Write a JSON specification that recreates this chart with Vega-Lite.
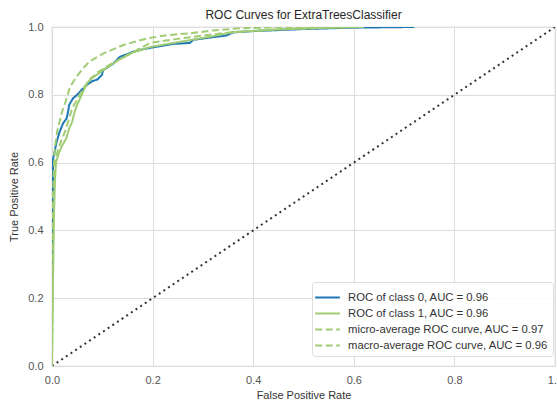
{
  "$schema": "https://vega.github.io/schema/vega-lite/v6.json",
  "width": 503,
  "height": 339,
  "autosize": "none",
  "padding": {"left": 52, "top": 27, "right": 2, "bottom": 35},
  "background": "white",
  "title": {"text": "ROC Curves for ExtraTreesClassifier", "font": "Liberation Sans", "fontSize": 12, "fontWeight": "normal", "color": "#262626", "anchor": "middle", "offset": -1},
  "datasets": {
    "roc": [
      {"s": "ROC of class 0, AUC = 0.96", "i": 0, "fpr": 0, "tpr": 0},
      {"s": "ROC of class 0, AUC = 0.96", "i": 1, "fpr": 0, "tpr": 0.35},
      {"s": "ROC of class 0, AUC = 0.96", "i": 2, "fpr": 0.002, "tpr": 0.55},
      {"s": "ROC of class 0, AUC = 0.96", "i": 3, "fpr": 0.002, "tpr": 0.61},
      {"s": "ROC of class 0, AUC = 0.96", "i": 4, "fpr": 0.005, "tpr": 0.63},
      {"s": "ROC of class 0, AUC = 0.96", "i": 5, "fpr": 0.009, "tpr": 0.66},
      {"s": "ROC of class 0, AUC = 0.96", "i": 6, "fpr": 0.015, "tpr": 0.69},
      {"s": "ROC of class 0, AUC = 0.96", "i": 7, "fpr": 0.022, "tpr": 0.716},
      {"s": "ROC of class 0, AUC = 0.96", "i": 8, "fpr": 0.029, "tpr": 0.73},
      {"s": "ROC of class 0, AUC = 0.96", "i": 9, "fpr": 0.032, "tpr": 0.75},
      {"s": "ROC of class 0, AUC = 0.96", "i": 10, "fpr": 0.034, "tpr": 0.77},
      {"s": "ROC of class 0, AUC = 0.96", "i": 11, "fpr": 0.042, "tpr": 0.79},
      {"s": "ROC of class 0, AUC = 0.96", "i": 12, "fpr": 0.05, "tpr": 0.8},
      {"s": "ROC of class 0, AUC = 0.96", "i": 13, "fpr": 0.059, "tpr": 0.814},
      {"s": "ROC of class 0, AUC = 0.96", "i": 14, "fpr": 0.069, "tpr": 0.829},
      {"s": "ROC of class 0, AUC = 0.96", "i": 15, "fpr": 0.08, "tpr": 0.84},
      {"s": "ROC of class 0, AUC = 0.96", "i": 16, "fpr": 0.09, "tpr": 0.845},
      {"s": "ROC of class 0, AUC = 0.96", "i": 17, "fpr": 0.099, "tpr": 0.858},
      {"s": "ROC of class 0, AUC = 0.96", "i": 18, "fpr": 0.102, "tpr": 0.873},
      {"s": "ROC of class 0, AUC = 0.96", "i": 19, "fpr": 0.12, "tpr": 0.89},
      {"s": "ROC of class 0, AUC = 0.96", "i": 20, "fpr": 0.135, "tpr": 0.912},
      {"s": "ROC of class 0, AUC = 0.96", "i": 21, "fpr": 0.15, "tpr": 0.92},
      {"s": "ROC of class 0, AUC = 0.96", "i": 22, "fpr": 0.161, "tpr": 0.927},
      {"s": "ROC of class 0, AUC = 0.96", "i": 23, "fpr": 0.18, "tpr": 0.934},
      {"s": "ROC of class 0, AUC = 0.96", "i": 24, "fpr": 0.201, "tpr": 0.94},
      {"s": "ROC of class 0, AUC = 0.96", "i": 25, "fpr": 0.241, "tpr": 0.95},
      {"s": "ROC of class 0, AUC = 0.96", "i": 26, "fpr": 0.274, "tpr": 0.953},
      {"s": "ROC of class 0, AUC = 0.96", "i": 27, "fpr": 0.281, "tpr": 0.962},
      {"s": "ROC of class 0, AUC = 0.96", "i": 28, "fpr": 0.32, "tpr": 0.97},
      {"s": "ROC of class 0, AUC = 0.96", "i": 29, "fpr": 0.347, "tpr": 0.975},
      {"s": "ROC of class 0, AUC = 0.96", "i": 30, "fpr": 0.36, "tpr": 0.984},
      {"s": "ROC of class 0, AUC = 0.96", "i": 31, "fpr": 0.4, "tpr": 0.988},
      {"s": "ROC of class 0, AUC = 0.96", "i": 32, "fpr": 0.453, "tpr": 0.991},
      {"s": "ROC of class 0, AUC = 0.96", "i": 33, "fpr": 0.5, "tpr": 0.994},
      {"s": "ROC of class 0, AUC = 0.96", "i": 34, "fpr": 0.55, "tpr": 0.996},
      {"s": "ROC of class 0, AUC = 0.96", "i": 35, "fpr": 0.6, "tpr": 0.998},
      {"s": "ROC of class 0, AUC = 0.96", "i": 36, "fpr": 0.72, "tpr": 1.0},

      {"s": "ROC of class 1, AUC = 0.96", "i": 0, "fpr": 0, "tpr": 0},
      {"s": "ROC of class 1, AUC = 0.96", "i": 1, "fpr": 0.002, "tpr": 0.25},
      {"s": "ROC of class 1, AUC = 0.96", "i": 2, "fpr": 0.004, "tpr": 0.45},
      {"s": "ROC of class 1, AUC = 0.96", "i": 3, "fpr": 0.006, "tpr": 0.55},
      {"s": "ROC of class 1, AUC = 0.96", "i": 4, "fpr": 0.008, "tpr": 0.6},
      {"s": "ROC of class 1, AUC = 0.96", "i": 5, "fpr": 0.014, "tpr": 0.63},
      {"s": "ROC of class 1, AUC = 0.96", "i": 6, "fpr": 0.02, "tpr": 0.65},
      {"s": "ROC of class 1, AUC = 0.96", "i": 7, "fpr": 0.028, "tpr": 0.67},
      {"s": "ROC of class 1, AUC = 0.96", "i": 8, "fpr": 0.034, "tpr": 0.7},
      {"s": "ROC of class 1, AUC = 0.96", "i": 9, "fpr": 0.04, "tpr": 0.72},
      {"s": "ROC of class 1, AUC = 0.96", "i": 10, "fpr": 0.045, "tpr": 0.75},
      {"s": "ROC of class 1, AUC = 0.96", "i": 11, "fpr": 0.05, "tpr": 0.77},
      {"s": "ROC of class 1, AUC = 0.96", "i": 12, "fpr": 0.056, "tpr": 0.79},
      {"s": "ROC of class 1, AUC = 0.96", "i": 13, "fpr": 0.062, "tpr": 0.81},
      {"s": "ROC of class 1, AUC = 0.96", "i": 14, "fpr": 0.07, "tpr": 0.835},
      {"s": "ROC of class 1, AUC = 0.96", "i": 15, "fpr": 0.08, "tpr": 0.85},
      {"s": "ROC of class 1, AUC = 0.96", "i": 16, "fpr": 0.095, "tpr": 0.865},
      {"s": "ROC of class 1, AUC = 0.96", "i": 17, "fpr": 0.109, "tpr": 0.88},
      {"s": "ROC of class 1, AUC = 0.96", "i": 18, "fpr": 0.135, "tpr": 0.905},
      {"s": "ROC of class 1, AUC = 0.96", "i": 19, "fpr": 0.161, "tpr": 0.925},
      {"s": "ROC of class 1, AUC = 0.96", "i": 20, "fpr": 0.195, "tpr": 0.941},
      {"s": "ROC of class 1, AUC = 0.96", "i": 21, "fpr": 0.23, "tpr": 0.95},
      {"s": "ROC of class 1, AUC = 0.96", "i": 22, "fpr": 0.274, "tpr": 0.961},
      {"s": "ROC of class 1, AUC = 0.96", "i": 23, "fpr": 0.32, "tpr": 0.973},
      {"s": "ROC of class 1, AUC = 0.96", "i": 24, "fpr": 0.36, "tpr": 0.985},
      {"s": "ROC of class 1, AUC = 0.96", "i": 25, "fpr": 0.453, "tpr": 0.993},
      {"s": "ROC of class 1, AUC = 0.96", "i": 26, "fpr": 0.55, "tpr": 0.998},
      {"s": "ROC of class 1, AUC = 0.96", "i": 27, "fpr": 0.62, "tpr": 1.0},

      {"s": "micro-average ROC curve, AUC = 0.97", "i": 0, "fpr": 0, "tpr": 0},
      {"s": "micro-average ROC curve, AUC = 0.97", "i": 1, "fpr": 0, "tpr": 0.3},
      {"s": "micro-average ROC curve, AUC = 0.97", "i": 2, "fpr": 0.002, "tpr": 0.5},
      {"s": "micro-average ROC curve, AUC = 0.97", "i": 3, "fpr": 0.004, "tpr": 0.6},
      {"s": "micro-average ROC curve, AUC = 0.97", "i": 4, "fpr": 0.006, "tpr": 0.647},
      {"s": "micro-average ROC curve, AUC = 0.97", "i": 5, "fpr": 0.01, "tpr": 0.69},
      {"s": "micro-average ROC curve, AUC = 0.97", "i": 6, "fpr": 0.016, "tpr": 0.726},
      {"s": "micro-average ROC curve, AUC = 0.97", "i": 7, "fpr": 0.02, "tpr": 0.75},
      {"s": "micro-average ROC curve, AUC = 0.97", "i": 8, "fpr": 0.026, "tpr": 0.775},
      {"s": "micro-average ROC curve, AUC = 0.97", "i": 9, "fpr": 0.036, "tpr": 0.824},
      {"s": "micro-average ROC curve, AUC = 0.97", "i": 10, "fpr": 0.049, "tpr": 0.854},
      {"s": "micro-average ROC curve, AUC = 0.97", "i": 11, "fpr": 0.06, "tpr": 0.875},
      {"s": "micro-average ROC curve, AUC = 0.97", "i": 12, "fpr": 0.075, "tpr": 0.899},
      {"s": "micro-average ROC curve, AUC = 0.97", "i": 13, "fpr": 0.102, "tpr": 0.922},
      {"s": "micro-average ROC curve, AUC = 0.97", "i": 14, "fpr": 0.142, "tpr": 0.947},
      {"s": "micro-average ROC curve, AUC = 0.97", "i": 15, "fpr": 0.188, "tpr": 0.966},
      {"s": "micro-average ROC curve, AUC = 0.97", "i": 16, "fpr": 0.228, "tpr": 0.976},
      {"s": "micro-average ROC curve, AUC = 0.97", "i": 17, "fpr": 0.274, "tpr": 0.981},
      {"s": "micro-average ROC curve, AUC = 0.97", "i": 18, "fpr": 0.32, "tpr": 0.99},
      {"s": "micro-average ROC curve, AUC = 0.97", "i": 19, "fpr": 0.373, "tpr": 0.996},
      {"s": "micro-average ROC curve, AUC = 0.97", "i": 20, "fpr": 0.45, "tpr": 0.999},
      {"s": "micro-average ROC curve, AUC = 0.97", "i": 21, "fpr": 0.55, "tpr": 1.0},

      {"s": "macro-average ROC curve, AUC = 0.96", "i": 0, "fpr": 0, "tpr": 0},
      {"s": "macro-average ROC curve, AUC = 0.96", "i": 1, "fpr": 0.002, "tpr": 0.3},
      {"s": "macro-average ROC curve, AUC = 0.96", "i": 2, "fpr": 0.003, "tpr": 0.5},
      {"s": "macro-average ROC curve, AUC = 0.96", "i": 3, "fpr": 0.006, "tpr": 0.6},
      {"s": "macro-average ROC curve, AUC = 0.96", "i": 4, "fpr": 0.012, "tpr": 0.64},
      {"s": "macro-average ROC curve, AUC = 0.96", "i": 5, "fpr": 0.02, "tpr": 0.67},
      {"s": "macro-average ROC curve, AUC = 0.96", "i": 6, "fpr": 0.028, "tpr": 0.7},
      {"s": "macro-average ROC curve, AUC = 0.96", "i": 7, "fpr": 0.034, "tpr": 0.73},
      {"s": "macro-average ROC curve, AUC = 0.96", "i": 8, "fpr": 0.04, "tpr": 0.76},
      {"s": "macro-average ROC curve, AUC = 0.96", "i": 9, "fpr": 0.048, "tpr": 0.78},
      {"s": "macro-average ROC curve, AUC = 0.96", "i": 10, "fpr": 0.055, "tpr": 0.8},
      {"s": "macro-average ROC curve, AUC = 0.96", "i": 11, "fpr": 0.065, "tpr": 0.825},
      {"s": "macro-average ROC curve, AUC = 0.96", "i": 12, "fpr": 0.075, "tpr": 0.845},
      {"s": "macro-average ROC curve, AUC = 0.96", "i": 13, "fpr": 0.09, "tpr": 0.865},
      {"s": "macro-average ROC curve, AUC = 0.96", "i": 14, "fpr": 0.11, "tpr": 0.885},
      {"s": "macro-average ROC curve, AUC = 0.96", "i": 15, "fpr": 0.135, "tpr": 0.905},
      {"s": "macro-average ROC curve, AUC = 0.96", "i": 16, "fpr": 0.16, "tpr": 0.925},
      {"s": "macro-average ROC curve, AUC = 0.96", "i": 17, "fpr": 0.195, "tpr": 0.953},
      {"s": "macro-average ROC curve, AUC = 0.96", "i": 18, "fpr": 0.25, "tpr": 0.965},
      {"s": "macro-average ROC curve, AUC = 0.96", "i": 19, "fpr": 0.3, "tpr": 0.975},
      {"s": "macro-average ROC curve, AUC = 0.96", "i": 20, "fpr": 0.36, "tpr": 0.985},
      {"s": "macro-average ROC curve, AUC = 0.96", "i": 21, "fpr": 0.45, "tpr": 0.993},
      {"s": "macro-average ROC curve, AUC = 0.96", "i": 22, "fpr": 0.55, "tpr": 0.998},
      {"s": "macro-average ROC curve, AUC = 0.96", "i": 23, "fpr": 0.62, "tpr": 1.0}
    ],
    "diag": [
      {"fpr": 0, "tpr": 0},
      {"fpr": 1, "tpr": 1}
    ]
  },
  "layer": [
    {
      "data": {"name": "diag"},
      "mark": {"type": "line", "color": "#333333", "strokeWidth": 2, "strokeDash": [2, 3.6], "strokeCap": "butt", "clip": true},
      "encoding": {
        "x": {"field": "fpr", "type": "quantitative"},
        "y": {"field": "tpr", "type": "quantitative"}
      }
    },
    {
      "data": {"name": "roc"},
      "mark": {"type": "line", "strokeWidth": 2, "clip": true},
      "encoding": {
        "x": {"field": "fpr", "type": "quantitative", "scale": {"domain": [0, 1], "nice": false}, "axis": {"values": [0, 0.2, 0.4, 0.6, 0.8, 1.0], "format": ".1f", "title": "False Positive Rate", "labelPadding": 8, "titlePadding": 4, "labelFlush": false, "labelOverlap": false}},
        "y": {"field": "tpr", "type": "quantitative", "scale": {"domain": [0, 1], "nice": false}, "axis": {"values": [0, 0.2, 0.4, 0.6, 0.8, 1.0], "format": ".1f", "title": "True Positive Rate", "labelPadding": 9, "titlePadding": 8, "labelFlush": false, "labelOverlap": false}},
        "order": {"field": "i", "type": "quantitative"},
        "color": {"field": "s", "type": "nominal", "scale": {"domain": ["ROC of class 0, AUC = 0.96", "ROC of class 1, AUC = 0.96", "micro-average ROC curve, AUC = 0.97", "macro-average ROC curve, AUC = 0.96"], "range": ["#1f78b4", "#a0cc74", "#a0cc74", "#a0cc74"]}, "legend": {"title": null}},
        "strokeDash": {"field": "s", "type": "nominal", "scale": {"domain": ["ROC of class 0, AUC = 0.96", "ROC of class 1, AUC = 0.96", "micro-average ROC curve, AUC = 0.97", "macro-average ROC curve, AUC = 0.96"], "range": [[1, 0], [1, 0], [7, 3.5], [7, 3.5]]}, "legend": {"title": null}}
      }
    }
  ],
  "resolve": {"scale": {"color": "independent", "strokeDash": "independent"}},
  "config": {
    "view": {"stroke": "#cccccc", "strokeWidth": 1.2},
    "axis": {"labelFont": "Liberation Sans", "titleFont": "Liberation Sans", "labelFontSize": 11, "titleFontSize": 11, "titleFontWeight": "normal", "labelColor": "#555555", "titleColor": "#333333", "gridColor": "#dddddd", "gridWidth": 1, "domain": false, "ticks": false},
    "legend": {"orient": "none", "legendX": 260, "legendY": 255, "padding": 5, "strokeColor": "#dddddd", "fillColor": "rgba(255,255,255,0.85)", "cornerRadius": 3, "labelFont": "Liberation Sans", "labelFontSize": 11.3, "labelColor": "#333333", "symbolType": "M-1.3,0H1.3", "symbolSize": 361, "symbolStrokeWidth": 2, "labelOffset": 10, "rowPadding": 0, "labelLimit": 300}
  }
}
